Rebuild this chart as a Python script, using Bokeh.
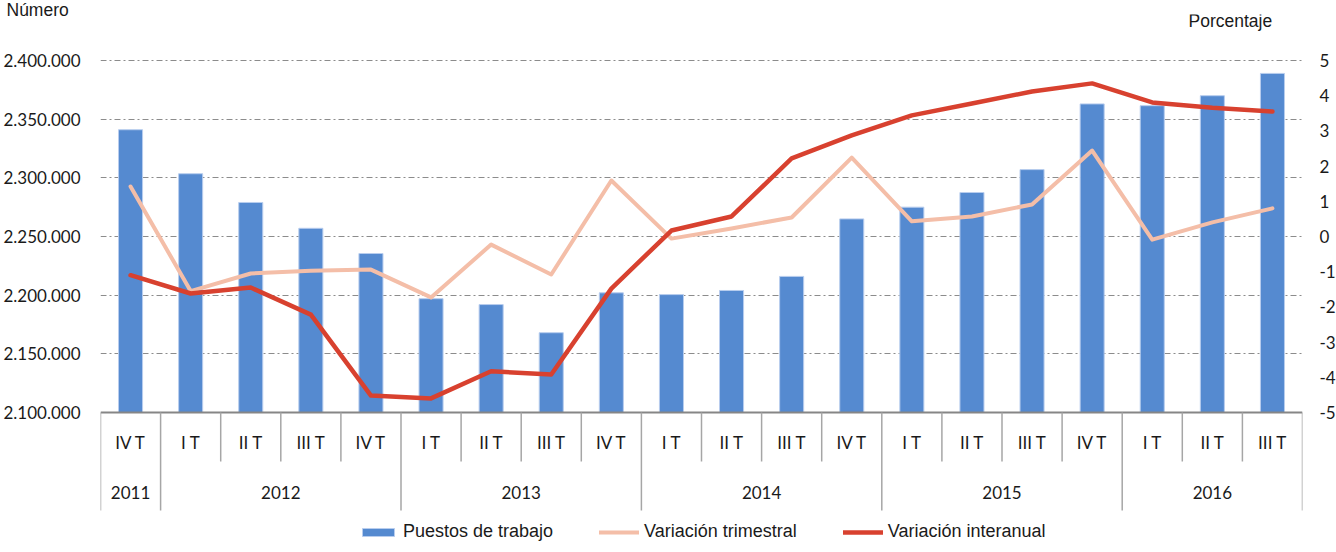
from bokeh.plotting import figure
from bokeh.models import Range1d, LinearAxis, FixedTicker, Legend, LegendItem, ColumnDataSource
from bokeh.core.properties import value
from bokeh.embed import file_html
from bokeh.resources import INLINE

# ---------------- data ----------------
quarters = ["IV T", "I T", "II T", "III T", "IV T", "I T", "II T", "III T", "IV T",
            "I T", "II T", "III T", "IV T", "I T", "II T", "III T", "IV T",
            "I T", "II T", "III T"]
years = ["2011", "2012", "2013", "2014", "2015", "2016"]
year_counts = [1, 4, 4, 4, 4, 3]

puestos = [2341000, 2303500, 2279000, 2257000, 2235500, 2197000, 2192000, 2168000,
           2202000, 2200500, 2204000, 2216000, 2265000, 2275000, 2287500, 2307000,
           2363000, 2361500, 2370000, 2389000]
var_trimestral = [1.42, -1.55, -1.05, -0.97, -0.94, -1.73, -0.23, -1.08, 1.59, -0.06,
                  0.23, 0.54, 2.24, 0.43, 0.57, 0.91, 2.44, -0.09, 0.40, 0.80]
var_interanual = [-1.10, -1.62, -1.45, -2.22, -4.52, -4.60, -3.83, -3.92, -1.48, 0.17,
                  0.57, 2.22, 2.87, 3.44, 3.78, 4.12, 4.35, 3.81, 3.66, 3.55]

left_ticks = [2100000, 2150000, 2200000, 2250000, 2300000, 2350000, 2400000]
right_ticks = [-5, -4, -3, -2, -1, 0, 1, 2, 3, 4, 5]

# ---------------- geometry (page pixels) ----------------
W, H = 1336, 552
FL, FR, FT = 100, 34, 14         # frame borders
FW = W - FL - FR                 # 1202
FH = H - FT                      # 538
AX_TOP, AX_BOT = 60, 412         # page y of top / bottom value ticks
lmin, lmax = left_ticks[0], left_ticks[-1]
rmin, rmax = right_ticks[0], right_ticks[-1]
lppx = (lmax - lmin) / (AX_BOT - AX_TOP)
rppx = (rmax - rmin) / (AX_BOT - AX_TOP)
left_top = lmax + (AX_TOP - FT) * lppx
left_bottom = lmin - (H - AX_BOT) * lppx
right_top = rmax + (AX_TOP - FT) * rppx
right_bottom = rmin - (H - AX_BOT) * rppx
n = len(quarters)

def below_axis(px):
    return lmin - px * lppx

def page_y(py):
    return lmax + (AX_TOP - py) * lppx

def page_x(px):
    return (px - FL) * n / FW

xs = [i + 0.5 for i in range(n)]

TICK_FONT = "Lato"
TXT = "#1a1a1a"

p = figure(frame_width=FW, frame_height=FH, output_backend="svg", toolbar_location=None,
           x_range=Range1d(0, n), y_range=Range1d(left_bottom, left_top),
           x_axis_type=None, min_border_left=FL, min_border_right=FR,
           min_border_top=FT, min_border_bottom=0)
p.outline_line_color = None
p.background_fill_color = "white"

# left unit title
p.title.text = "Número"
p.title.align = "left"
p.title.offset = 6 - FL
p.title.standoff = -10
p.title.text_font = "Liberation Sans"
p.title.text_font_size = "17.5px"
p.title.text_font_style = "normal"
p.title.text_color = TXT

# left axis
la = p.left[0]
la.ticker = FixedTicker(ticks=left_ticks)
la.major_label_overrides = {t: f"{t:,}".replace(",", ".") for t in left_ticks}
la.axis_line_color = None
la.major_tick_line_color = None
la.minor_tick_line_color = None
la.major_tick_out = 0
la.major_tick_in = 0
la.minor_tick_out = 0
la.major_label_standoff = 20
la.major_label_text_font = TICK_FONT
la.major_label_text_font_size = "17px"
la.major_label_text_color = TXT

# right axis
p.extra_y_ranges = {"pct": Range1d(right_bottom, right_top)}
ra = LinearAxis(y_range_name="pct", ticker=FixedTicker(ticks=right_ticks))
ra.major_label_overrides = {t: str(t) for t in right_ticks}
ra.axis_line_color = None
ra.major_tick_line_color = None
ra.minor_tick_line_color = None
ra.major_tick_out = 0
ra.major_tick_in = 0
ra.minor_tick_out = 0
ra.major_label_standoff = 17
ra.major_label_text_font = TICK_FONT
ra.major_label_text_font_size = "17px"
ra.major_label_text_color = TXT
p.add_layout(ra, "right")

# grid
p.ygrid.ticker = FixedTicker(ticks=left_ticks[1:])
p.ygrid.grid_line_color = "#8c8c8c"
p.ygrid.grid_line_dash = "6 3 2 3"
p.ygrid.grid_line_width = 1.2
p.xgrid.visible = False

# bars
src = ColumnDataSource(dict(x=xs, top=puestos, t=var_trimestral, a=var_interanual))
bars = p.vbar(x="x", top="top", bottom=lmin, width=0.4, source=src,
              fill_color="#558ad0", line_color="#b8cdee", line_width=1)

# lines
l_t = p.line(x="x", y="t", source=src, y_range_name="pct", line_color="#f4bea8",
             line_width=4, line_join="round", line_cap="round")
l_a = p.line(x="x", y="a", source=src, y_range_name="pct", line_color="#d8412f",
             line_width=4.5, line_join="round", line_cap="round")

# category axis (drawn inside the frame area below the value range)
p.segment(x0=[0], y0=[lmin], x1=[n], y1=[lmin], line_color="#868686", line_width=2)
bounds = [0]
for c in year_counts:
    bounds.append(bounds[-1] + c)
q_sep = [i for i in range(1, n) if i not in bounds]
p.segment(x0=q_sep, y0=[lmin] * len(q_sep), x1=q_sep, y1=[below_axis(49)] * len(q_sep),
          line_color="#a6a6a6", line_width=1.5)
p.segment(x0=bounds, y0=[lmin] * len(bounds), x1=bounds, y1=[below_axis(98)] * len(bounds),
          line_color="#a6a6a6", line_width=1.5)
p.text(x=xs, y=[below_axis(30)] * n, text=quarters, text_font=value(TICK_FONT),
       text_font_size=value("17px"), text_align="center", text_baseline="middle",
       text_color=TXT)
ycent = [(bounds[i] + bounds[i + 1]) / 2 for i in range(len(years))]
p.text(x=ycent, y=[below_axis(80)] * len(years), text=years, text_font=value(TICK_FONT),
       text_font_size=value("17px"), text_align="center", text_baseline="middle",
       text_color=TXT)

# right unit title
p.text(x=[page_x(1188)], y=[page_y(20)], text=["Porcentaje"],
       text_font=value("Liberation Sans"), text_font_size=value("17.5px"),
       text_align="left", text_baseline="middle", text_color=TXT)

# legend
legend = Legend(items=[LegendItem(label="Puestos de trabajo", renderers=[bars]),
                       LegendItem(label="Variación trimestral", renderers=[l_t]),
                       LegendItem(label="Variación interanual", renderers=[l_a])],
                orientation="horizontal", location=(258, 10), padding=0, margin=0,
                spacing=46, label_standoff=5, glyph_width=40, glyph_height=10,
                label_text_font="Liberation Sans", label_text_font_size="18px",
                label_text_color=TXT, background_fill_alpha=0, border_line_color=None)
p.add_layout(legend)

open("out.html", "w").write(file_html(p, INLINE))
